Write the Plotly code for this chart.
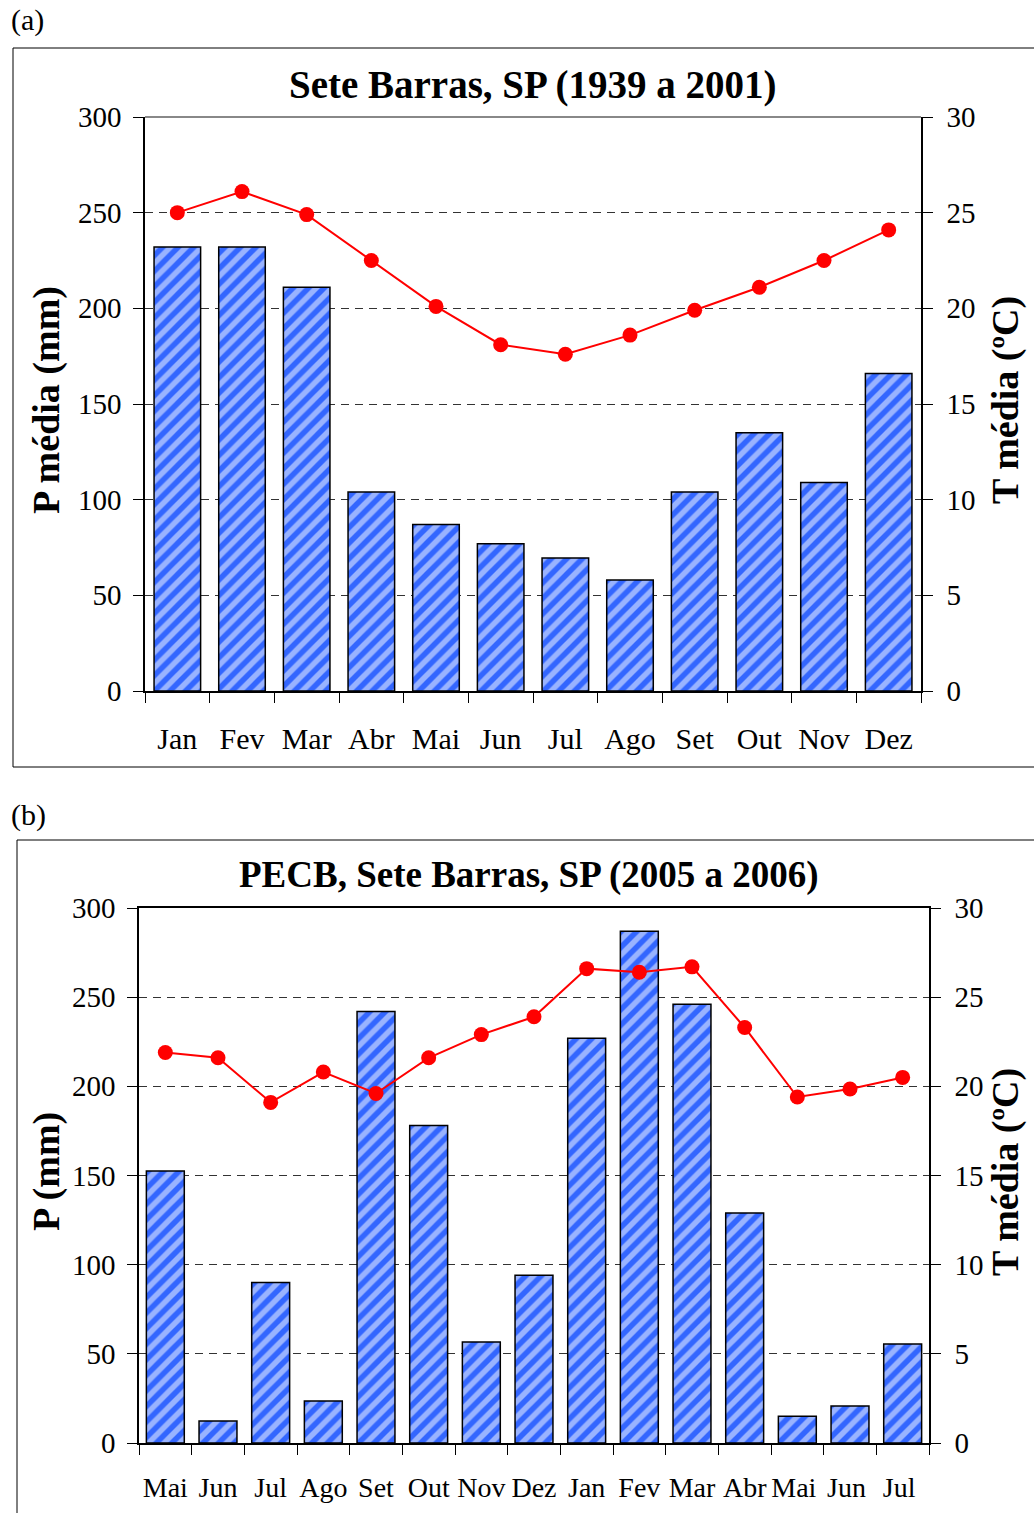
import plotly.graph_objects as go

# ---------------- data ----------------
months_a = ["Jan", "Fev", "Mar", "Abr", "Mai", "Jun", "Jul", "Ago", "Set", "Out", "Nov", "Dez"]
precip_a = [232, 232, 211, 104, 87, 77, 69.5, 58, 104, 135, 109, 166]
temp_a = [25.0, 26.1, 24.9, 22.5, 20.1, 18.1, 17.6, 18.6, 19.9, 21.1, 22.5, 24.1]

months_b = ["Mai", "Jun", "Jul", "Ago", "Set", "Out", "Nov", "Dez", "Jan", "Fev", "Mar", "Abr", "Mai ", "Jun ", "Jul "]
precip_b = [152.5, 12.3, 90, 23.5, 242, 178, 56.6, 94, 227, 287, 246, 129, 15, 20.7, 55.5]
temp_b = [21.9, 21.6, 19.1, 20.8, 19.6, 21.6, 22.9, 23.9, 26.6, 26.4, 26.7, 23.3, 19.4, 19.85, 20.5]

title_a = "Sete Barras, SP (1939 a 2001)"
title_b = "PECB, Sete Barras, SP (2005 a 2006)"
ylab_a = "P média (mm)"
ylab_b = "P (mm)"
ylab_t = "T média (ºC)"

# ---------------- layout helpers ----------------
W, H = 1034, 1513
FONT = "Liberation Serif"
BLUE = "#3366ff"


def fx(px):
    return px / W


def fy(py):
    return 1 - py / H


bar_marker = dict(
    color=BLUE,
    line=dict(color="black", width=1.5),
    pattern=dict(shape="/", fgcolor="white", bgcolor=BLUE, size=11, solidity=0.5),
)
line_style = dict(color="#ff0000", width=2)
marker_style = dict(color="#ff0000", size=15)

fig = go.Figure()
fig.add_trace(go.Bar(x=months_a, y=precip_a, marker=bar_marker, xaxis="x", yaxis="y", width=0.72))
fig.add_trace(go.Scatter(x=months_a, y=temp_a, mode="lines+markers", line=line_style,
                         marker=marker_style, xaxis="x", yaxis="y2"))
fig.add_trace(go.Bar(x=months_b, y=precip_b, marker=bar_marker, xaxis="x2", yaxis="y3", width=0.72))
fig.add_trace(go.Scatter(x=months_b, y=temp_b, mode="lines+markers", line=line_style,
                         marker=marker_style, xaxis="x2", yaxis="y4"))

yfont = dict(family=FONT, size=29, color="black")

# plot area pixel boxes
A = dict(l=145, r=921, t=117, b=691)
B = dict(l=139, r=929, t=908, b=1443)


def xaxis(box, anchor, mirror, n, standoff, fsize):
    return dict(domain=[fx(box["l"]), fx(box["r"])], anchor=anchor, type="category",
                range=[-0.5, n - 0.5], tickangle=0,
                showline=True, linecolor="black", linewidth=1.5, mirror=mirror,
                ticks="outside", tickson="boundaries", ticklen=10, tickcolor="black",
                tickfont=dict(family=FONT, size=fsize, color="black"),
                ticklabelstandoff=standoff, showgrid=False, automargin=False)


def yleft(box, anchor, rng, dt):
    return dict(domain=[fy(box["b"]), fy(box["t"])], anchor=anchor, range=rng, dtick=dt,
                showline=True, linecolor="black", linewidth=1.5,
                ticks="outside", ticklen=10, tickcolor="black", tickfont=yfont,
                ticklabelstandoff=6, showgrid=True, gridcolor="#333", griddash="8px,6px",
                gridwidth=1, zeroline=False, automargin=False)


def yright(overlay, anchor, rng, dt):
    return dict(overlaying=overlay, anchor=anchor, side="right", range=rng, dtick=dt,
                showline=True, linecolor="black", linewidth=1.5,
                ticks="outside", ticklen=10, tickcolor="black", tickfont=yfont,
                ticklabelstandoff=8, showgrid=False, zeroline=False, automargin=False)


fig.update_layout(
    width=W, height=H, margin=dict(l=0, r=0, t=0, b=0),
    paper_bgcolor="white", plot_bgcolor="white", showlegend=False,
    font=dict(family=FONT, color="black"),
    xaxis=xaxis(A, "y", False, len(months_a), 20, 30),
    yaxis=yleft(A, "x", [0, 300], 50),
    yaxis2=yright("y", "x", [0, 30], 5),
    xaxis2=xaxis(B, "y3", True, len(months_b), 19, 28),
    yaxis3=yleft(B, "x2", [0, 300], 50),
    yaxis4=yright("y3", "x2", [0, 30], 5),
)

shapes = [
    # outer frames
    dict(type="rect", xref="paper", yref="paper", x0=fx(13), x1=fx(1040), y0=fy(767), y1=fy(48),
         line=dict(color="black", width=1)),
    dict(type="rect", xref="paper", yref="paper", x0=fx(17), x1=fx(1040), y0=fy(1530), y1=fy(840),
         line=dict(color="black", width=1)),
    # top border of plot (a)
    dict(type="line", xref="paper", yref="paper", x0=fx(A["l"]), x1=fx(A["r"]), y0=fy(A["t"]), y1=fy(A["t"]),
         line=dict(color="#888", width=2)),
]
fig.update_layout(shapes=shapes)

ann = [
    dict(text="(a)", x=fx(9), y=fy(20), xanchor="left", yanchor="middle", font=dict(size=30)),
    dict(text="(b)", x=fx(9), y=fy(815), xanchor="left", yanchor="middle", font=dict(size=30)),
    dict(text="<b>" + title_a + "</b>", x=fx(532), y=fy(85), xanchor="center", yanchor="middle", font=dict(size=39)),
    dict(text="<b>" + title_b + "</b>", x=fx(529), y=fy(875), xanchor="center", yanchor="middle", font=dict(size=37)),
    dict(text="<b>" + ylab_a + "</b>", x=fx(46), y=fy(400), textangle=-90, xanchor="center", yanchor="middle", font=dict(size=38)),
    dict(text="<b>" + ylab_t + "</b>", x=fx(1005), y=fy(400), textangle=-90, xanchor="center", yanchor="middle", font=dict(size=38)),
    dict(text="<b>" + ylab_b + "</b>", x=fx(46), y=fy(1172), textangle=-90, xanchor="center", yanchor="middle", font=dict(size=38)),
    dict(text="<b>" + ylab_t + "</b>", x=fx(1005), y=fy(1172), textangle=-90, xanchor="center", yanchor="middle", font=dict(size=38)),
]
for a in ann:
    a.update(xref="paper", yref="paper", showarrow=False)
    a["font"].update(family=FONT, color="black")
fig.update_layout(annotations=ann)

fig.write_html("out.html")
